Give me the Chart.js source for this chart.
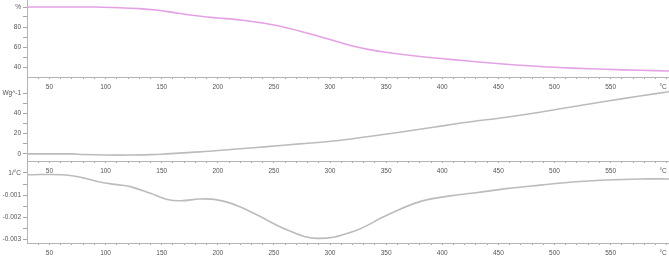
<!DOCTYPE html>
<html>
<head>
<meta charset="utf-8">
<script src="https://cdn.jsdelivr.net/npm/chart.js@4/dist/chart.umd.min.js"></script>
<style>
  html, body { margin: 0; padding: 0; background: #fff; overflow: hidden; }
  body { width: 669px; height: 257px; position: relative; }
  canvas { position: absolute; left: 0; }
</style>
</head>
<body>
<canvas id="tg" width="669" height="96" style="top:0px"></canvas>
<canvas id="dsc" width="669" height="102" style="top:78px"></canvas>
<canvas id="dtg" width="669" height="96" style="top:161px"></canvas>
<script>
// Température (°C) – axe commun
const xMajorTicks = [50, 100, 150, 200, 250, 300, 350, 400, 450, 500, 550, 600];
const xMajorLabels = ["50", "100", "150", "200", "250", "300", "350", "400", "450", "500", "550", "°C"];
const xMinorStep = 10;

// TG (%)
const tgTemps = [30, 90, 110, 130, 145, 160, 175, 200, 215, 232, 250, 262, 276, 291, 306, 320, 335, 351, 380, 407, 430, 457, 487, 516, 546, 576, 602];
const tgValues = [100, 100, 99.4, 98.4, 97, 94.6, 92, 89, 87.6, 85.3, 82, 79, 75, 70.3, 65.5, 61, 57.4, 54.5, 50.5, 47.6, 45.3, 42.8, 40.5, 38.9, 37.7, 36.7, 36];
const tgTicks = [40, 50, 60, 70, 80, 90, 100];
const tgTickLabels = ["40", "", "60", "", "80", "", "%"];

// DSC (W/g)
const dscTemps = [30, 70, 80, 100, 120, 140, 150, 165, 184, 214, 244, 273, 303, 333, 362, 392, 420, 457, 487, 516, 546, 576, 602];
const dscValues = [0, 0, -0.6, -1.1, -1.1, -0.7, -0.3, 0.8, 2, 4.6, 7.2, 9.9, 12.8, 17, 21.4, 26.3, 31, 36.3, 41.2, 46.6, 52, 57.2, 61.4];
const dscTicks = [0, 10, 20, 30, 40, 50, 60];
const dscTickLabels = ["0", "", "20", "", "40", "", "Wg^-1"];

// DTG (1/°C)
const dtgTemps = [30, 62, 80, 95, 110, 122, 140, 155, 167, 184, 197, 212, 232, 262, 288, 320, 351, 380, 407, 430, 457, 487, 516, 546, 576, 602];
const dtgValues = [-0.00008, -0.00008, -0.00022, -0.00041, -0.00053, -0.00062, -0.00092, -0.0012, -0.00126, -0.00118, -0.0012, -0.00138, -0.00183, -0.00259, -0.00297, -0.00267, -0.00191, -0.0013, -0.00104, -0.0009, -0.00071, -0.00055, -0.00041, -0.00032, -0.00027, -0.00027];
const dtgTicks = [0, -0.0005, -0.001, -0.0015, -0.002, -0.0025, -0.003];
const dtgTickLabels = ["1/°C", "", "-0.001", "", "-0.002", "", "-0.003"];

const font = { family: "Liberation Sans", size: 6.5 };
const textColor = "#555";
const axisColor = "#b4b4b4";

function points(xs, ys) {
  return xs.map((x, i) => ({ x: x, y: ys[i] }));
}

function panel(id, data, color, yMin, yMax, yTicks, yLabels, xHeight) {
  return new Chart(document.getElementById(id), {
    type: "line",
    data: {
      datasets: [{
        data: data,
        borderColor: color,
        borderWidth: 1.6,
        pointRadius: 0,
        fill: false,
        tension: 0.4
      }]
    },
    options: {
      responsive: false,
      animation: false,
      layout: { padding: 0 },
      plugins: { legend: { display: false }, tooltip: { enabled: false } },
      scales: {
        x: {
          type: "linear",
          min: 30,
          max: 602,
          afterBuildTicks: (axis) => {
            const t = [];
            for (let v = 40; v <= 600; v += xMinorStep) t.push({ value: v });
            axis.ticks = t;
          },
          afterFit: (axis) => {
            axis.height = xHeight;
            axis.paddingLeft = 0;
            axis.paddingRight = 0;
          },
          grid: { drawOnChartArea: false, tickLength: 2, color: "#a8a8a8" },
          border: { color: axisColor, width: 1 },
          ticks: {
            autoSkip: false,
            maxRotation: 0,
            align: "inner",
            padding: 4,
            color: textColor,
            font: font,
            callback: (v) => {
              const i = xMajorTicks.indexOf(v);
              return i >= 0 ? xMajorLabels[i] : "";
            }
          }
        },
        y: {
          type: "linear",
          min: yMin,
          max: yMax,
          afterBuildTicks: (axis) => {
            axis.ticks = yTicks.map(v => ({ value: v }));
          },
          afterFit: (axis) => {
            axis.width = 27;
            axis.paddingTop = 0;
            axis.paddingBottom = 0;
          },
          grid: { drawOnChartArea: false, tickLength: 4, color: "#a8a8a8" },
          border: { color: axisColor, width: 1 },
          ticks: {
            autoSkip: false,
            padding: 2,
            color: textColor,
            font: font,
            callback: (v, i) => yLabels[i]
          }
        }
      }
    }
  });
}

panel("tg", points(tgTemps, tgValues), "#e3a2e3", 30, 107, tgTicks, tgTickLabels, 19);
panel("dsc", points(dscTemps, dscValues), "#bcbcbc", -7, 75, dscTicks, dscTickLabels, 19);
panel("dtg", points(dtgTemps, dtgValues), "#bcbcbc", -0.00318, 0.000545, dtgTicks, dtgTickLabels, 14);
</script>
</body>
</html>
